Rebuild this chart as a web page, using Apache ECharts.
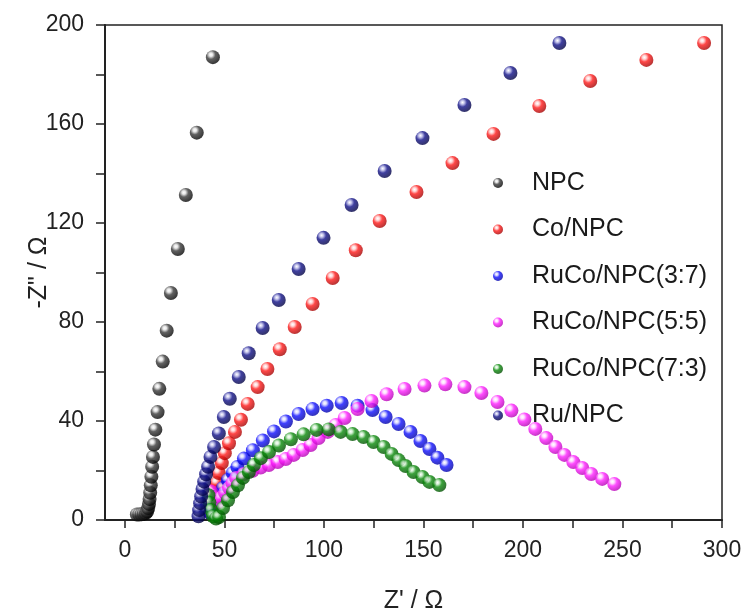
<!DOCTYPE html>
<html>
<head>
<meta charset="utf-8">
<script src="https://cdn.jsdelivr.net/npm/echarts@6/dist/echarts.min.js"></script>
<style>html,body{margin:0;padding:0;background:#fff}#c{width:749px;height:614px}</style>
</head>
<body>
<div id="c"></div>
<script>
// ---- data (Z' , -Z'') ----
const seriesNames = ['NPC', 'Co/NPC', 'RuCo/NPC(3:7)', 'RuCo/NPC(5:5)', 'RuCo/NPC(7:3)', 'Ru/NPC'];

const npc = [[6,2.2],[7.2,2.2],[8.4,2.3],[9.5,2.5],[10.5,2.8],[11.2,3.5],[11.7,4.8],[12.1,6.5],[12.4,8.5],[12.7,11],[13,14],[13.3,17.5],[13.7,21.5],[14.1,25.5],[14.6,30.5],[15.3,36.5],[16.4,43.6],[17.3,53],[19,64],[21,76.5],[23.1,91.7],[26.6,109.5],[30.6,131.3],[36.1,156.5],[44.2,187]];

const coNpc = [[43.3,2.5],[43.8,5],[44.4,8],[45.2,11.5],[46.2,15],[47.2,19],[48.7,23],[50.2,27],[52.3,31],[55.3,35.6],[58.3,40.5],[61.7,46.9],[66.7,53.7],[71.6,61],[77.8,69],[85.3,78],[94.3,87.3],[104.4,97.8],[116,109],[128,120.8],[146.5,132.5],[164.6,144.2],[185.2,156],[208.2,167.3],[233.8,177.4],[262,185.9],[291,192.7]];

const ruCo37 = [[42.7,2.8],[43.7,4.8],[45.2,7.3],[47.2,10],[49.2,12.9],[51.7,16.2],[54.2,19],[56.5,21.4],[59.8,24.8],[64.3,28.2],[69.3,32.1],[74.9,35.8],[80.9,39.8],[87.3,42.8],[94.3,44.8],[101.4,46.2],[108.9,47.3],[116.9,46.2],[124.4,44.4],[131,41.6],[137.5,38.8],[143.5,35.6],[148.5,31.9],[153,28.7],[157,25.2],[161.6,22.2]];

const ruCo55 = [[43.2,11.5],[44.6,9],[46.5,7],[48.3,9],[50.3,11],[52.3,13],[54,15],[55.9,17],[59.7,18.6],[64.2,19.9],[68.2,21.2],[72.3,22.2],[76.8,23.4],[80.8,24.6],[84.8,26.3],[89.3,28.3],[93.3,30.3],[97.3,33.1],[101.9,35.6],[105.9,38.4],[110.4,41.2],[116.9,44.8],[123.9,48.1],[131.5,50.8],[140.5,52.9],[150.5,54.3],[161,54.8],[170.6,53.7],[179.1,51.3],[187.2,47.7],[194.2,44.2],[200.7,40.6],[206.2,36.8],[211.7,33.1],[216.3,29.5],[220.8,26.3],[225.3,23.4],[229.8,21],[234.3,18.6],[239.8,16.6],[245.9,14.5]];

const ruCo73 = [[42,10],[42.5,7],[43.3,4],[44.3,1.5],[45.8,0.6],[47.3,1.2],[49.3,4.8],[51.8,8],[54.3,11.3],[56.8,14],[59.3,17],[62.3,19.4],[64.8,22.2],[68.3,25],[72.4,27.5],[77.4,30.1],[83.4,32.6],[89.8,34.6],[96.3,36.4],[102.4,36.6],[108.4,35.6],[114.4,34.7],[119.9,33.5],[124.9,31.5],[130,29.5],[134,26.7],[137.5,24.2],[141,21.8],[145,19.4],[149.5,17.4],[153,15.4],[158,14.1]];

const ruNpc = [[37,1.5],[37.3,4],[37.8,6.8],[38.3,9.5],[39,12.5],[39.8,15.5],[40.8,18.5],[41.8,21.5],[43,25.5],[44.8,29.5],[47.2,35],[49.7,41.6],[52.7,49],[57.2,57.8],[62.2,67.4],[69.2,77.6],[77.3,88.9],[87.3,101.4],[99.8,114],[113.9,127.3],[130.5,141],[149.5,154.3],[170.6,167.7],[193.7,180.6],[218.3,192.7]];

const xLabelValues = [0, 50, 100, 150, 200, 250, 300];
const xTickValues = [0, 25, 50, 75, 100, 125, 150, 175, 200, 225, 250, 275, 300];
const yLabelValues = [0, 40, 80, 120, 160, 200];
const yTickValues = [0, 20, 40, 60, 80, 100, 120, 140, 160, 180, 200];

// ---- styling ----
const palette = [
  ['#e0e0e0', '#3a3a3a', '#000000'],
  ['#ffd0d0', '#ff1a1a', '#a00000'],
  ['#d0d0ff', '#1010ff', '#0000a0'],
  ['#ffd8ff', '#ff20ff', '#b000b0'],
  ['#c8ecc8', '#0a8a0a', '#004c00'],
  ['#b8b8e8', '#101088', '#000040']
];
function sphere(c) {
  return {
    type: 'radial', x: 0.36, y: 0.32, r: 0.72,
    colorStops: [
      {offset: 0, color: '#ffffff'},
      {offset: 0.18, color: c[0]},
      {offset: 0.45, color: c[1]},
      {offset: 1, color: c[2]}
    ]
  };
}
const allData = [npc, coNpc, ruCo37, ruCo55, ruCo73, ruNpc];
const font = 'Liberation Sans, Arial, sans-serif';

const chart = echarts.init(document.getElementById('c'), null, {renderer: 'canvas'});
chart.setOption({
  animation: false,
  backgroundColor: '#fff',
  grid: {left: 105, right: 27, top: 25, bottom: 94, show: true, borderColor: '#222', borderWidth: 1.5,
         containLabel: false, outerBoundsMode: 'none'},
  legend: {
    orient: 'vertical', left: 488, top: 165,
    itemWidth: 10, itemHeight: 10, itemGap: 20.5,
    icon: 'circle',
    textStyle: {fontFamily: font, fontSize: 25, color: '#1a1a1a', lineHeight: 26, padding: [0, 0, 0, 24]},
    data: seriesNames
  },
  xAxis: {
    type: 'value', min: -10, max: 300,
    name: "Z' / Ω", nameLocation: 'middle', nameGap: 69, nameMoveOverlap: false,
    nameTextStyle: {fontFamily: font, fontSize: 25, color: '#222'},
    axisLine: {onZero: false, lineStyle: {color: '#222', width: 2}},
    axisTick: {show: true, inside: false, length: 8, lineStyle: {color: '#222', width: 1.5}, customValues: xTickValues},
    axisLabel: {fontFamily: font, fontSize: 23, color: '#222', margin: 19, customValues: xLabelValues},
    splitLine: {show: false}
  },
  yAxis: {
    type: 'value', min: 0, max: 200,
    name: '-Z" / Ω', nameLocation: 'middle', nameGap: 53, nameRotate: 90, nameMoveOverlap: false,
    nameTextStyle: {fontFamily: font, fontSize: 25, color: '#222'},
    axisLine: {onZero: false, lineStyle: {color: '#222', width: 2}},
    axisTick: {show: true, inside: false, length: 9, lineStyle: {color: '#222', width: 1.5}, customValues: yTickValues},
    axisLabel: {fontFamily: font, fontSize: 23, color: '#222', margin: 21, customValues: yLabelValues},
    splitLine: {show: false}
  },
  series: seriesNames.map((n, i) => ({
    name: n, type: 'scatter', data: allData[i], symbol: 'circle', symbolSize: 14,
    itemStyle: {color: sphere(palette[i])},
    z: 2 + i
  }))
});
</script>
</body>
</html>
